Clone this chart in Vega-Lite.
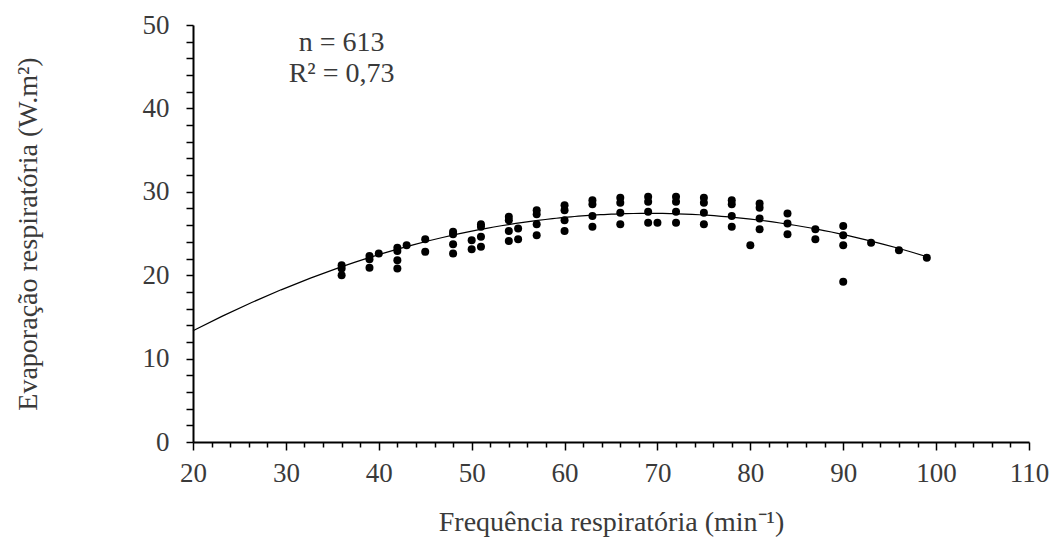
{
  "$schema": "https://vega.github.io/schema/vega-lite/v6.json",
  "width": 836,
  "height": 417,
  "autosize": {"type": "none"},
  "padding": {"left": 193, "top": 25, "right": 24, "bottom": 97},
  "background": "white",
  "config": {
    "view": {"stroke": null},
    "font": "Liberation Serif",
    "axis": {
      "domainColor": "black",
      "domainWidth": 2,
      "tickColor": "black",
      "tickWidth": 1.5,
      "labelFont": "Liberation Serif",
      "labelFontSize": 27,
      "labelColor": "#3a3a3a",
      "titleFont": "Liberation Serif",
      "titleFontSize": 28,
      "titleFontWeight": "normal",
      "titleColor": "#3a3a3a",
      "grid": false
    }
  },
  "datasets": {
    "points": [
      {"fr": 36, "er": 21.2}, {"fr": 36, "er": 20.8}, {"fr": 36, "er": 20.0},
      {"fr": 39, "er": 22.3}, {"fr": 39, "er": 21.9}, {"fr": 39, "er": 20.9},
      {"fr": 40, "er": 22.6},
      {"fr": 42, "er": 23.3}, {"fr": 42, "er": 22.9}, {"fr": 42, "er": 21.8}, {"fr": 42, "er": 20.8},
      {"fr": 43, "er": 23.6},
      {"fr": 45, "er": 24.3}, {"fr": 45, "er": 22.8},
      {"fr": 48, "er": 25.2}, {"fr": 48, "er": 24.9}, {"fr": 48, "er": 23.7}, {"fr": 48, "er": 22.6},
      {"fr": 50, "er": 24.2}, {"fr": 50, "er": 23.1},
      {"fr": 51, "er": 26.1}, {"fr": 51, "er": 25.8}, {"fr": 51, "er": 24.6}, {"fr": 51, "er": 23.4},
      {"fr": 54, "er": 27.0}, {"fr": 54, "er": 26.6}, {"fr": 54, "er": 25.3}, {"fr": 54, "er": 24.1},
      {"fr": 55, "er": 25.6}, {"fr": 55, "er": 24.3},
      {"fr": 57, "er": 27.8}, {"fr": 57, "er": 27.3}, {"fr": 57, "er": 26.1}, {"fr": 57, "er": 24.8},
      {"fr": 60, "er": 28.4}, {"fr": 60, "er": 27.8}, {"fr": 60, "er": 26.6}, {"fr": 60, "er": 25.3},
      {"fr": 63, "er": 29.0}, {"fr": 63, "er": 28.5}, {"fr": 63, "er": 27.1}, {"fr": 63, "er": 25.8},
      {"fr": 66, "er": 29.3}, {"fr": 66, "er": 28.7}, {"fr": 66, "er": 27.5}, {"fr": 66, "er": 26.1},
      {"fr": 69, "er": 29.4}, {"fr": 69, "er": 28.8}, {"fr": 69, "er": 27.6}, {"fr": 69, "er": 26.3},
      {"fr": 70, "er": 26.3},
      {"fr": 72, "er": 29.4}, {"fr": 72, "er": 28.8}, {"fr": 72, "er": 27.6}, {"fr": 72, "er": 26.3},
      {"fr": 75, "er": 29.3}, {"fr": 75, "er": 28.7}, {"fr": 75, "er": 27.5}, {"fr": 75, "er": 26.1},
      {"fr": 78, "er": 29.0}, {"fr": 78, "er": 28.5}, {"fr": 78, "er": 27.1}, {"fr": 78, "er": 25.8},
      {"fr": 80, "er": 23.6},
      {"fr": 81, "er": 28.6}, {"fr": 81, "er": 28.1}, {"fr": 81, "er": 26.8}, {"fr": 81, "er": 25.5},
      {"fr": 84, "er": 27.4}, {"fr": 84, "er": 26.2}, {"fr": 84, "er": 24.9},
      {"fr": 87, "er": 25.5}, {"fr": 87, "er": 24.3},
      {"fr": 90, "er": 25.9}, {"fr": 90, "er": 24.8}, {"fr": 90, "er": 23.6}, {"fr": 90, "er": 19.2},
      {"fr": 93, "er": 23.9},
      {"fr": 96, "er": 23.0},
      {"fr": 99, "er": 22.1}
    ],
    "curve": [
      {"fr": 20, "er": 13.3},
      {"fr": 36, "er": 21.07},
      {"fr": 51, "er": 25.55},
      {"fr": 60, "er": 26.85},
      {"fr": 69, "er": 27.45},
      {"fr": 78, "er": 26.95},
      {"fr": 84, "er": 26.15},
      {"fr": 90, "er": 24.75},
      {"fr": 99, "er": 22.3}
    ],
    "notes": [
      {"fr": 36, "er": 47.9, "label": "n = 613"},
      {"fr": 36, "er": 44.1, "label": "R² = 0,73"}
    ]
  },
  "encoding": {
    "x": {
      "field": "fr", "type": "quantitative",
      "scale": {"domain": [20, 110], "nice": false, "zero": false},
      "axis": {
        "title": "Frequência respiratória (min⁻¹)",
        "values": [20,22,24,26,28,30,32,34,36,38,40,42,44,46,48,50,52,54,56,58,60,62,64,66,68,70,72,74,76,78,80,82,84,86,88,90,92,94,96,98,100,102,104,106,108,110],
        "labelExpr": "datum.value % 10 == 0 ? datum.label : ''",
        "labelOverlap": false,
        "labelFlush": false,
        "tickSize": {"condition": {"test": "datum.value % 10 == 0", "value": 8}, "value": 5},
        "labelPadding": 10,
        "titlePadding": 22
      }
    },
    "y": {
      "field": "er", "type": "quantitative",
      "scale": {"domain": [0, 50], "nice": false},
      "axis": {
        "title": "Evaporação respiratória (W.m²)",
        "values": [0,2,4,6,8,10,12,14,16,18,20,22,24,26,28,30,32,34,36,38,40,42,44,46,48,50],
        "labelExpr": "datum.value % 10 == 0 ? datum.label : ''",
        "labelOverlap": false,
        "labelFlush": false,
        "tickSize": 7,
        "labelPadding": 17,
        "titlePadding": 100
      }
    }
  },
  "layer": [
    {
      "data": {"name": "curve"},
      "mark": {"type": "line", "color": "black", "strokeWidth": 1.2},
      "transform": [
        {"regression": "er", "on": "fr", "method": "poly", "order": 2, "extent": [20, 99]}
      ]
    },
    {
      "data": {"name": "points"},
      "mark": {"type": "circle", "color": "black", "opacity": 1, "size": 64}
    },
    {
      "data": {"name": "notes"},
      "mark": {"type": "text", "font": "Liberation Serif", "fontSize": 28, "color": "#3a3a3a", "baseline": "middle", "align": "center"},
      "encoding": {"text": {"field": "label"}}
    }
  ]
}
